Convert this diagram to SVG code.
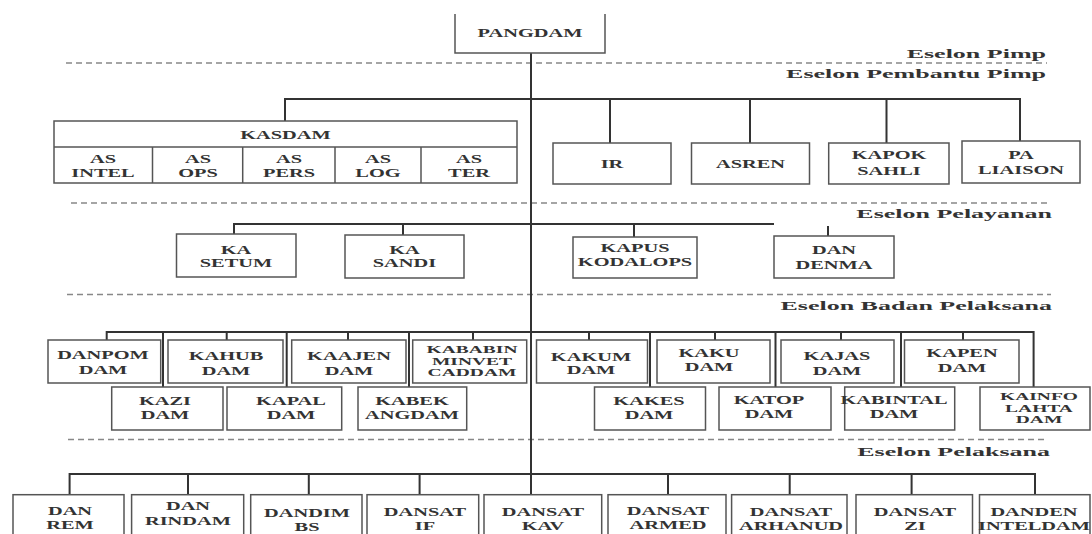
<svg xmlns="http://www.w3.org/2000/svg" width="1092" height="534" viewBox="0 0 1092 534">
<style>
.box{fill:#fff;stroke:#555;stroke-width:1.5}
.ln{stroke:#333;stroke-width:2;fill:none}
.dash{stroke:#888;stroke-width:1.5;stroke-dasharray:6 4;fill:none}
.t{font-family:"Liberation Serif","Times New Roman",serif;font-weight:bold;font-size:12px;fill:#333;text-anchor:middle}
.t3{font-size:10px}
.e{font-family:"Liberation Serif","Times New Roman",serif;font-weight:bold;font-size:13px;fill:#333;text-anchor:end}
</style>
<rect width="1092" height="534" fill="#fff"/>

<g id="eselon-dividers">
<line class="dash" x1="66" y1="63" x2="1047" y2="63"/>
<line class="dash" x1="71" y1="203" x2="1051" y2="203"/>
<line class="dash" x1="67" y1="294.5" x2="1051" y2="294.5"/>
<line class="dash" x1="68" y1="439.5" x2="1047" y2="439.5"/>
<text class="e" transform="translate(1046 0) scale(2 1)" x="0" y="58">Eselon Pimp</text>
<text class="e" transform="translate(1046 0) scale(2 1)" x="0" y="78">Eselon Pembantu Pimp</text>
<text class="e" transform="translate(1052 0) scale(2 1)" x="0" y="218">Eselon Pelayanan</text>
<text class="e" transform="translate(1052 0) scale(2 1)" x="0" y="310">Eselon Badan Pelaksana</text>
<text class="e" transform="translate(1050 0) scale(2 1)" x="0" y="456">Eselon Pelaksana</text>
</g>

<g id="connectors">
<path class="ln" d="M531,53 V494"/>
<path class="ln" d="M285,121 V99 H1020 V141 M610,99 V143 M750,99 V143 M886.5,99 V143"/>
<path class="ln" d="M234,234 V224 H774 M403,224 V235 M634,224 V237 M828,226 V236"/>
<path class="ln" d="M106.7,340 V332 H1033.6 V387 M226.7,332 V340 M348,332 V340 M473,332 V340 M589,332 V340 M715,332 V340 M841,332 V340 M963,332 V340 M163,332 V387 M286.7,332 V387 M409,332 V387 M650,332 V387 M775.5,332 V387 M901,332 V387"/>
<path class="ln" d="M69.6,494 V474 H1035 V494 M188,474 V494 M308.8,474 V494 M419.6,474 V494 M668,474 V494 M789.7,474 V494 M911.6,474 V494"/>
</g>

<g id="pangdam">
<path class="box" d="M455,14 V53 H605 V14" fill="none"/>
<text class="t" transform="translate(530 0) scale(1.7 1)"><tspan x="0" y="37.5">PANGDAM</tspan></text>
</g>

<g id="kasdam">
<rect class="box" x="54" y="121" width="463" height="62"/>
<path class="box" d="M54,147 H517 M152.5,147 V183 M242.7,147 V183 M335,147 V183 M421,147 V183"/>
<text class="t" transform="translate(285.5 0) scale(1.7 1)"><tspan x="0" y="139">KASDAM</tspan></text>
<g id="as-intel"><text class="t" transform="translate(103 0) scale(1.7 1)"><tspan x="0" y="163">AS</tspan><tspan x="0" y="177">INTEL</tspan></text></g>
<g id="as-ops"><text class="t" transform="translate(198 0) scale(1.7 1)"><tspan x="0" y="163">AS</tspan><tspan x="0" y="177">OPS</tspan></text></g>
<g id="as-pers"><text class="t" transform="translate(289 0) scale(1.7 1)"><tspan x="0" y="163">AS</tspan><tspan x="0" y="177">PERS</tspan></text></g>
<g id="as-log"><text class="t" transform="translate(378 0) scale(1.7 1)"><tspan x="0" y="163">AS</tspan><tspan x="0" y="177">LOG</tspan></text></g>
<g id="as-ter"><text class="t" transform="translate(469 0) scale(1.7 1)"><tspan x="0" y="163">AS</tspan><tspan x="0" y="177">TER</tspan></text></g>
</g>

<g id="ir"><rect class="box" x="553" y="143" width="118" height="41"/>
<text class="t" transform="translate(612 0) scale(1.7 1)"><tspan x="0" y="168">IR</tspan></text></g>
<g id="asren"><rect class="box" x="691.5" y="143" width="118" height="41"/>
<text class="t" transform="translate(750.5 0) scale(1.7 1)"><tspan x="0" y="168">ASREN</tspan></text></g>
<g id="kapok-sahli"><rect class="box" x="828.7" y="143" width="120.3" height="41"/>
<text class="t" transform="translate(889 0) scale(1.7 1)"><tspan x="0" y="159">KAPOK</tspan><tspan x="0" y="175">SAHLI</tspan></text></g>
<g id="pa-liaison"><rect class="box" x="962" y="141" width="118" height="42"/>
<text class="t" transform="translate(1021 0) scale(1.7 1)"><tspan x="0" y="159">PA</tspan><tspan x="0" y="174">LIAISON</tspan></text></g>

<g id="ka-setum"><rect class="box" x="176.5" y="234" width="119.5" height="43"/>
<text class="t" transform="translate(236 0) scale(1.7 1)"><tspan x="0" y="254">KA</tspan><tspan x="0" y="267">SETUM</tspan></text></g>
<g id="ka-sandi"><rect class="box" x="345" y="235" width="119" height="43"/>
<text class="t" transform="translate(404.5 0) scale(1.7 1)"><tspan x="0" y="254">KA</tspan><tspan x="0" y="267.5">SANDI</tspan></text></g>
<g id="kapus-kodalops"><rect class="box" x="573" y="237" width="124" height="41"/>
<text class="t" transform="translate(635 0) scale(1.7 1)"><tspan x="0" y="252">KAPUS</tspan><tspan x="0" y="266.5">KODALOPS</tspan></text></g>
<g id="dan-denma"><rect class="box" x="774" y="236" width="120" height="42"/>
<text class="t" transform="translate(834 0) scale(1.7 1)"><tspan x="0" y="254">DAN</tspan><tspan x="0" y="269">DENMA</tspan></text></g>

<g id="danpom"><rect class="box" x="48" y="340" width="112.7" height="43"/>
<text class="t" transform="translate(103 0) scale(1.7 1)"><tspan x="0" y="359">DANPOM</tspan><tspan x="0" y="374">DAM</tspan></text></g>
<g id="kahub"><rect class="box" x="168" y="340" width="115" height="43"/>
<text class="t" transform="translate(226 0) scale(1.7 1)"><tspan x="0" y="360">KAHUB</tspan><tspan x="0" y="375">DAM</tspan></text></g>
<g id="kaajen"><rect class="box" x="291.7" y="340" width="114.3" height="43"/>
<text class="t" transform="translate(349 0) scale(1.7 1)"><tspan x="0" y="360">KAAJEN</tspan><tspan x="0" y="375">DAM</tspan></text></g>
<g id="kababin"><rect class="box" x="412.7" y="340" width="114" height="43"/>
<text class="t t3" transform="translate(472 0) scale(1.95 1)"><tspan x="0" y="353.5">KABABIN</tspan><tspan x="0" y="365">MINVET</tspan><tspan x="0" y="376.5">CADDAM</tspan></text></g>
<g id="kakum"><rect class="box" x="536.5" y="340" width="111" height="43"/>
<text class="t" transform="translate(591 0) scale(1.7 1)"><tspan x="0" y="361">KAKUM</tspan><tspan x="0" y="374">DAM</tspan></text></g>
<g id="kaku"><rect class="box" x="657" y="340" width="113" height="43"/>
<text class="t" transform="translate(709 0) scale(1.7 1)"><tspan x="0" y="357">KAKU</tspan><tspan x="0" y="371.5">DAM</tspan></text></g>
<g id="kajas"><rect class="box" x="781" y="340" width="113" height="43"/>
<text class="t" transform="translate(837 0) scale(1.7 1)"><tspan x="0" y="360">KAJAS</tspan><tspan x="0" y="375">DAM</tspan></text></g>
<g id="kapen"><rect class="box" x="904.5" y="340" width="114.5" height="43"/>
<text class="t" transform="translate(962 0) scale(1.7 1)"><tspan x="0" y="357">KAPEN</tspan><tspan x="0" y="372">DAM</tspan></text></g>

<g id="kazi"><rect class="box" x="111.7" y="387" width="111.3" height="43"/>
<text class="t" transform="translate(165 0) scale(1.7 1)"><tspan x="0" y="405.5">KAZI</tspan><tspan x="0" y="419">DAM</tspan></text></g>
<g id="kapal"><rect class="box" x="227" y="387" width="114.7" height="43"/>
<text class="t" transform="translate(291 0) scale(1.7 1)"><tspan x="0" y="405.5">KAPAL</tspan><tspan x="0" y="419">DAM</tspan></text></g>
<g id="kabek"><rect class="box" x="358" y="387" width="108.7" height="43"/>
<text class="t" transform="translate(412 0) scale(1.7 1)"><tspan x="0" y="405.5">KABEK</tspan><tspan x="0" y="419">ANGDAM</tspan></text></g>
<g id="kakes"><rect class="box" x="594.5" y="387" width="111" height="43"/>
<text class="t" transform="translate(649 0) scale(1.7 1)"><tspan x="0" y="405">KAKES</tspan><tspan x="0" y="419">DAM</tspan></text></g>
<g id="katop"><rect class="box" x="719" y="387" width="112" height="43"/>
<text class="t" transform="translate(769 0) scale(1.7 1)"><tspan x="0" y="404">KATOP</tspan><tspan x="0" y="418">DAM</tspan></text></g>
<g id="kabintal"><rect class="box" x="844.7" y="387" width="110" height="43"/>
<text class="t" transform="translate(894 0) scale(1.7 1)"><tspan x="0" y="404">KABINTAL</tspan><tspan x="0" y="418">DAM</tspan></text></g>
<g id="kainfo"><rect class="box" x="980" y="387" width="110" height="43"/>
<text class="t t3" transform="translate(1039 0) scale(1.95 1)"><tspan x="0" y="400.5">KAINFO</tspan><tspan x="0" y="412">LAHTA</tspan><tspan x="0" y="423.5">DAM</tspan></text></g>

<g id="dan-rem"><rect class="box" x="13" y="494.7" width="111" height="50"/>
<text class="t" transform="translate(70 0) scale(1.7 1)"><tspan x="0" y="515">DAN</tspan><tspan x="0" y="529">REM</tspan></text></g>
<g id="dan-rindam"><rect class="box" x="131.6" y="494.7" width="112.1" height="50"/>
<text class="t" transform="translate(188 0) scale(1.7 1)"><tspan x="0" y="510">DAN</tspan><tspan x="0" y="525">RINDAM</tspan></text></g>
<g id="dandim-bs"><rect class="box" x="250.7" y="494.7" width="111.3" height="50"/>
<text class="t" transform="translate(307 0) scale(1.7 1)"><tspan x="0" y="517">DANDIM</tspan><tspan x="0" y="531">BS</tspan></text></g>
<g id="dansat-if"><rect class="box" x="367" y="494.7" width="111.7" height="50"/>
<text class="t" transform="translate(425 0) scale(1.7 1)"><tspan x="0" y="516">DANSAT</tspan><tspan x="0" y="530">IF</tspan></text></g>
<g id="dansat-kav"><rect class="box" x="484" y="494.7" width="117.7" height="50"/>
<text class="t" transform="translate(543 0) scale(1.7 1)"><tspan x="0" y="516">DANSAT</tspan><tspan x="0" y="530">KAV</tspan></text></g>
<g id="dansat-armed"><rect class="box" x="608" y="494.7" width="118" height="50"/>
<text class="t" transform="translate(668 0) scale(1.7 1)"><tspan x="0" y="515">DANSAT</tspan><tspan x="0" y="529">ARMED</tspan></text></g>
<g id="dansat-arhanud"><rect class="box" x="731.6" y="494.7" width="115.4" height="50"/>
<text class="t" transform="translate(791 0) scale(1.7 1)"><tspan x="0" y="516">DANSAT</tspan><tspan x="0" y="530">ARHANUD</tspan></text></g>
<g id="dansat-zi"><rect class="box" x="856" y="494.7" width="116.5" height="50"/>
<text class="t" transform="translate(915 0) scale(1.7 1)"><tspan x="0" y="516">DANSAT</tspan><tspan x="0" y="530">ZI</tspan></text></g>
<g id="danden-inteldam"><rect class="box" x="979.5" y="494.7" width="110.5" height="50"/>
<text class="t" transform="translate(1034 0) scale(1.7 1)"><tspan x="0" y="516">DANDEN</tspan><tspan x="0" y="530">INTELDAM</tspan></text></g>
</svg>
